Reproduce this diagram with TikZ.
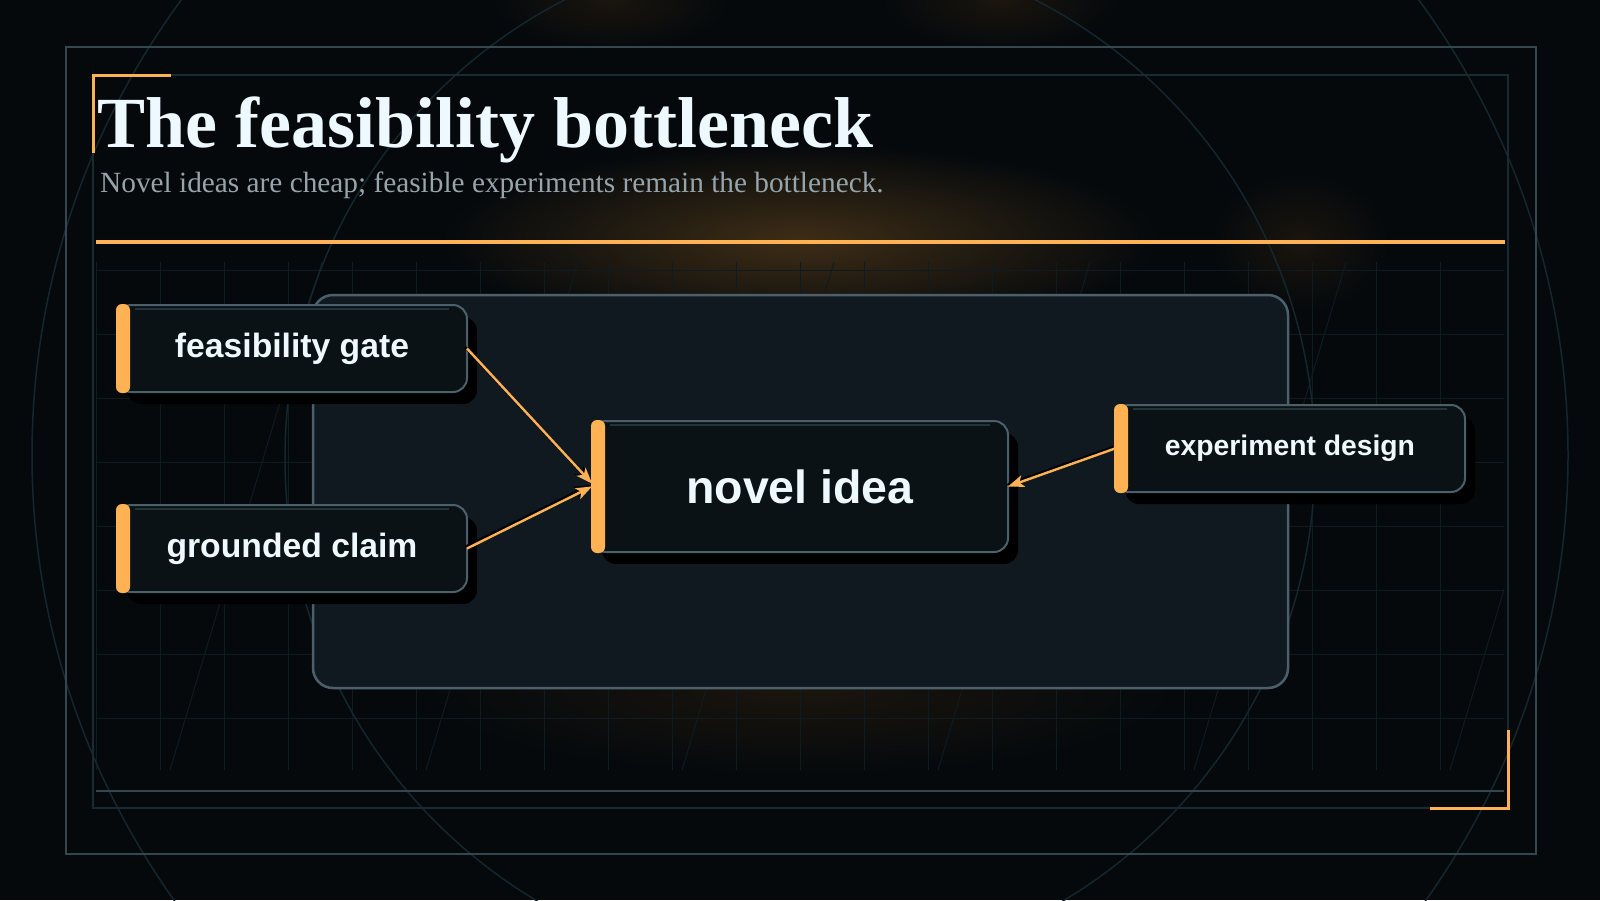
\documentclass[tikz,border=0pt]{standalone}
\usepackage{fontspec}
\setmainfont{Liberation Serif}
\setsansfont{Liberation Sans}
\usetikzlibrary{arrows.meta,shadows}

\definecolor{bgcol}{HTML}{05090C}
\definecolor{panelcol}{HTML}{111920}
\definecolor{boxcol}{HTML}{0B1215}
\definecolor{edgecol}{HTML}{4B606A}
\definecolor{framecol}{HTML}{34474F}
\definecolor{innercol}{HTML}{1A2A31}
\definecolor{gridcol}{HTML}{0F1B21}
\definecolor{ringcol}{HTML}{14262E}
\definecolor{accent}{HTML}{FFB253}
\definecolor{titlecol}{HTML}{EEF8FF}
\definecolor{subcol}{HTML}{97A4AB}
\definecolor{hilitecol}{HTML}{22333A}
\definecolor{glowcol}{HTML}{3E2D16}
\definecolor{glowsoft}{HTML}{1A150E}

\tikzset{
  ideabox/.style={draw=edgecol, line width=2pt, fill=boxcol, rounded corners=14pt,
    outer sep=0pt, inner sep=0pt, text=titlecol,
    drop shadow={shadow xshift=10pt, shadow yshift=-12pt, fill=black, opacity=1}},
  link/.style={draw=accent, line width=2.4pt, -{Stealth[length=16pt,width=12pt,inset=4pt]},
    preaction={draw=black, line width=2.4pt, -{Stealth[length=16pt,width=12pt,inset=4pt]},
      transform canvas={xshift=-2pt,yshift=1.5pt}}},
  gridline/.style={draw=gridcol, line width=1pt},
  frameline/.style={draw=framecol, line width=2pt},
  cornerline/.style={draw=accent, line width=3pt},
}

\begin{document}
\begin{tikzpicture}[x=1pt, y=-1pt]
\useasboundingbox (0,0) rectangle (1600,900);

% background and glows
\fill[bgcol] (0,0) rectangle (1600,900);
\shade[inner color=glowcol, outer color=bgcol] (800,240) ellipse [x radius=360, y radius=95];
\shade[inner color=glowsoft, outer color=bgcol] (1300,242) ellipse [x radius=90, y radius=70];
\shade[inner color=glowsoft, outer color=bgcol] (800,690) ellipse [x radius=380, y radius=85];
\shade[inner color=glowsoft, outer color=bgcol] (610,0) ellipse [x radius=120, y radius=50];
\shade[inner color=glowsoft, outer color=bgcol] (1000,0) ellipse [x radius=120, y radius=50];

% grid behind the diagram
\begin{scope}
\clip (96,262) rectangle (1504,770);
\foreach \gx in {96,160,...,1504} \draw[gridline] (\gx,262) -- (\gx,770);
\foreach \gy in {270,334,...,718} \draw[gridline] (96,\gy) -- (1504,\gy);
\foreach \dx in {0,256,...,1280} \draw[gridline] (170+\dx,770) -- (322+\dx,262);
\end{scope}

% rings
\draw[ringcol, line width=1.5pt] (800,455) circle [radius=768];
\draw[ringcol, line width=1.5pt] (800,458) circle [radius=515];

% frames
\draw[frameline] (66,47) rectangle (1536,854);
\draw[innercol, line width=2pt] (93,75) rectangle (1508,808);
\draw[frameline] (96,791) -- (1504,791);
\draw[cornerline] (171,75) -- (93,75) -- (93,153);
\draw[cornerline] (1508,730) -- (1508,808) -- (1430,808);

% title
\node[anchor=base west, inner sep=0pt, text=titlecol, font=\bfseries\fontsize{72}{86}\selectfont] (title) at (97,147) {The feasibility bottleneck};
\node[anchor=base west, inner sep=0pt, text=subcol, font=\fontsize{29.3}{35}\selectfont] (subtitle) at (100,192) {Novel ideas are cheap; feasible experiments remain the bottleneck.};
\fill[accent] (96,240) rectangle (1505,244);

% panel
\draw[draw=edgecol, fill=panelcol, line width=2.5pt, rounded corners=20pt] (313,295) rectangle (1288,688);

% the nodes
\node[ideabox, minimum width=350pt, minimum height=87pt, font=\sffamily\bfseries\fontsize{33.7}{40}\selectfont] (gate) at (292,348.5) {feasibility gate};
\node[ideabox, minimum width=350pt, minimum height=87pt, font=\sffamily\bfseries\fontsize{33.7}{40}\selectfont] (claim) at (292,548.5) {grounded claim};
\node[ideabox, minimum width=416pt, minimum height=131pt, font=\sffamily\bfseries\fontsize{46.5}{54}\selectfont] (idea) at (800,486.5) {novel idea};
\node[ideabox, minimum width=350pt, minimum height=87pt, font=\sffamily\bfseries\fontsize{28.3}{34}\selectfont] (design) at (1290,448.5) {experiment design};

\foreach \n in {gate,claim,idea,design} {
  \draw[hilitecol, line width=2pt] ([xshift=18pt,yshift=-4pt]\n.north west) -- ([xshift=-18pt,yshift=-4pt]\n.north east);
  \fill[accent, rounded corners=6pt] ([xshift=-1pt,yshift=1pt]\n.north west) rectangle ([xshift=13pt,yshift=-1pt]\n.south west);
}

% links
\draw[link] (gate.east) -- ([yshift=3pt]idea.west);
\draw[link] (claim.east) -- (idea.west);
\draw[link] (design.west) -- (idea.east);
\end{tikzpicture}
\end{document}
